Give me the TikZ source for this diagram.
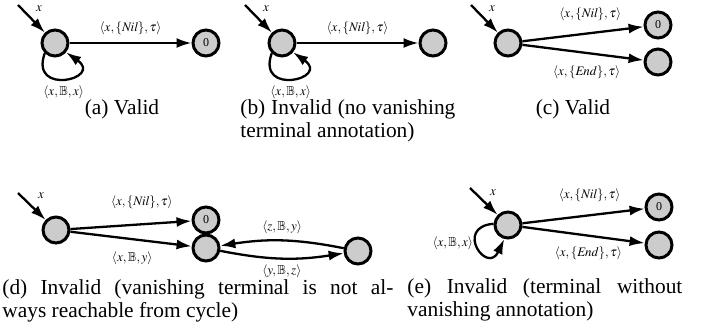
\documentclass[tikz,border=0pt]{standalone}
\usepackage{mathptmx}
\usepackage{amssymb}
\usepackage[no-math]{fontspec}
\setmainfont{Liberation Serif}
\usetikzlibrary{
  arrows.meta,
  positioning,
  calc,
}

\begin{document}
\begin{tikzpicture}[
  x=0.5pt, y=0.5pt,
  state/.style={circle, draw=black, line width=1.5pt, fill=black!20,
                minimum size=13pt, inner sep=0pt, font=\fontsize{6}{7}\selectfont},
  edge/.style={-{Latex[length=7.5pt,width=5pt]}, line width=1.15pt},
  lbl/.style={font=\fontsize{6.5}{7.5}\selectfont, inner sep=0pt},
  subcap/.style={font=\fontsize{10.7}{11.6}\selectfont, inner sep=0pt},
]
\useasboundingbox (0,0) rectangle (713,-328);

% (a) valid
\node[state] (aI) at (55,-43) {};
\node[state] (aT) at (206,-43) {0};
\coordinate (aS) at ($(aI)+(-37,38)$);
\draw[edge] (aS) -- (aI);
\node[lbl] (ax) at ($(aS)+(21,-4)$) {$x$};
\draw[edge] (aI) -- (aT)
  node[lbl, midway, above=3.5pt] (aNil) {$\langle x,\{\mathit{Nil}\},\tau\rangle$};
\draw[edge] (aI.225) to[out=250, in=-35, looseness=5.5]
  node[lbl, below=3pt] (aLoop) {$\langle x,\mathbb{B},x\rangle$} (aI.-40);
\node[subcap, anchor=base] (aCap) at (122,-114) {(a) Valid};

% (b) invalid, no vanishing terminal
\node[state] (bI) at (282,-43) {};
\node[state] (bT) at (433,-43) {};
\coordinate (bS) at ($(bI)+(-37,38)$);
\draw[edge] (bS) -- (bI);
\node[lbl] (bx) at ($(bS)+(21,-4)$) {$x$};
\draw[edge] (bI) -- (bT)
  node[lbl, midway, above=3.5pt] (bNil) {$\langle x,\{\mathit{Nil}\},\tau\rangle$};
\draw[edge] (bI.225) to[out=250, in=-35, looseness=5.5]
  node[lbl, below=3pt] (bLoop) {$\langle x,\mathbb{B},x\rangle$} (bI.-40);
\node[subcap, anchor=base west, text width=107.5pt, align=justify] (bCap) at (240,-114)
  {(b) Invalid (no vanishing\linebreak terminal annotation)};

% (c) valid
\node[state] (cI) at (508,-43) {};
\node[state] (cT) at (658,-25) {0};
\node[state] (cE) at (658,-62) {};
\coordinate (cS) at ($(cI)+(-37,38)$);
\draw[edge] (cS) -- (cI);
\node[lbl] (cx) at ($(cS)+(21,-4)$) {$x$};
\draw[edge] (cI) -- (cT)
  node[lbl, pos=0.56, above=5.5pt] (cNil) {$\langle x,\{\mathit{Nil}\},\tau\rangle$};
\draw[edge] (cI) -- (cE)
  node[lbl, pos=0.53, below=6pt] (cEnd) {$\langle x,\{\mathit{End}\},\tau\rangle$};
\node[subcap, anchor=base] (cCap) at (573,-114) {(c) Valid};

% (d) invalid, cycle
\node[state] (dI) at (56,-230) {};
\node[state] (dT) at (206,-220) {0};
\node[state] (dM) at (206,-248) {};
\node[state] (dR) at (358,-251) {};
\coordinate (dS) at ($(dI)+(-38,37)$);
\draw[edge] (dS) -- (dI);
\node[lbl] (dx) at ($(dS)+(23,-3)$) {$x$};
\draw[edge] (dI) -- (dT)
  node[lbl, pos=0.59, above=7pt] (dNil) {$\langle x,\{\mathit{Nil}\},\tau\rangle$};
\draw[edge] (dI) -- (dM)
  node[lbl, pos=0.51, below=6pt] (dxy) {$\langle x,\mathbb{B},y\rangle$};
\draw[edge] (dR) to[bend right=10]
  node[lbl, above=3pt] (dzy) {$\langle z,\mathbb{B},y\rangle$} (dM);
\draw[edge] (dM) to[bend right=10]
  node[lbl, below=2.5pt] (dyz) {$\langle y,\mathbb{B},z\rangle$} (dR);
\node[subcap, anchor=base west, text width=195.5pt, align=justify] (dCap) at (2,-294)
  {(d) Invalid (vanishing terminal is not al-\linebreak ways reachable from cycle)};

% (e) invalid, terminal without vanishing annotation
\node[state] (eI) at (508,-225) {};
\node[state] (eT) at (659,-207) {0};
\node[state] (eE) at (659,-245) {};
\coordinate (eS) at ($(eI)+(-38,37)$);
\draw[edge] (eS) -- (eI);
\node[lbl] (ex) at ($(eS)+(23,-5)$) {$x$};
\draw[edge] (eI) -- (eT)
  node[lbl, pos=0.55, above=6pt] (eNil) {$\langle x,\{\mathit{Nil}\},\tau\rangle$};
\draw[edge] (eI) -- (eE)
  node[lbl, pos=0.54, below=5pt] (eEnd) {$\langle x,\{\mathit{End}\},\tau\rangle$};
\draw[edge] (eI.175) to[out=185, in=-115, looseness=5.5]
  node[lbl, pos=0.45, left=1pt] (eLoop) {$\langle x,\mathbb{B},x\rangle$} (eI.-105);
\node[subcap, anchor=base west, text width=137.5pt, align=justify] (eCap) at (407,-293)
  {(e) Invalid (terminal without\linebreak vanishing annotation)};

\end{tikzpicture}
\end{document}
